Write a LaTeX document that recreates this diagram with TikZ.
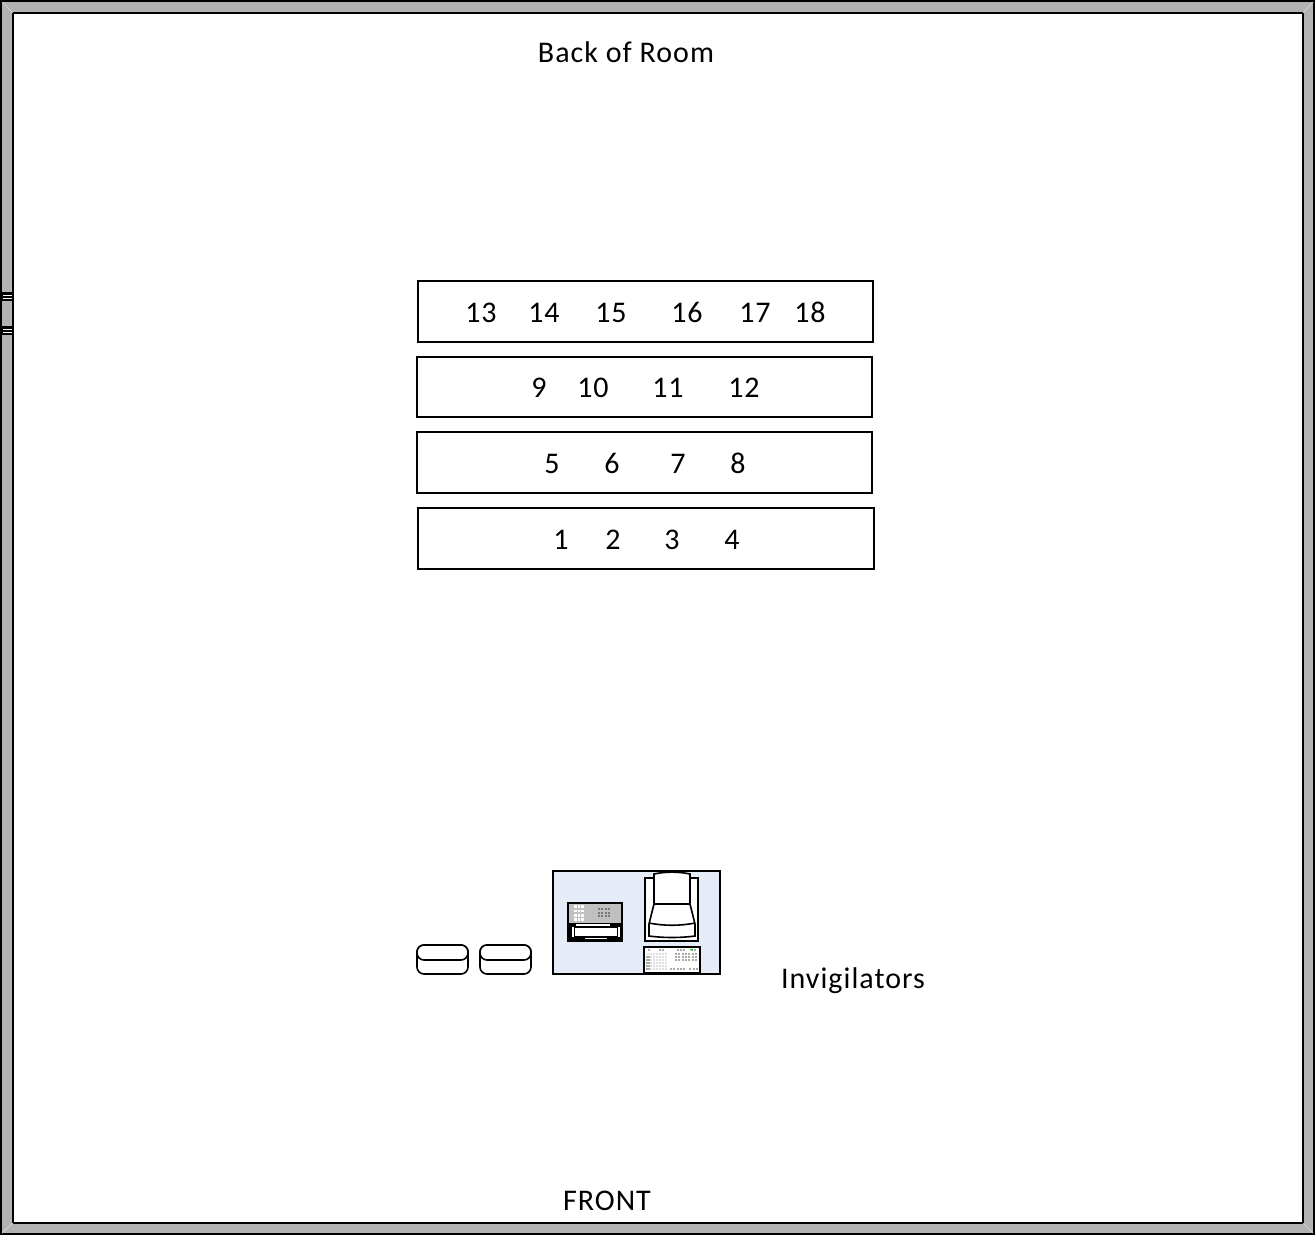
\documentclass[tikz,border=0pt]{standalone}
\usepackage{fontspec}
\setmainfont{Carlito}
\newfontfamily\roomfont[LetterSpace=3.4]{Carlito}
\usepackage{xcolor}
\usetikzlibrary{positioning, arrows.meta}
\definecolor{WallGrey}{RGB}{178,178,178}
\definecolor{TableBlue}{RGB}{230,236,247}
\definecolor{PhoneGrey}{RGB}{192,192,192}
\definecolor{KeyGrey}{RGB}{170,170,170}
\tikzset{
  wall/.style={draw=black, line width=2pt, fill=WallGrey},
  room/.style={draw=black, line width=2pt, fill=white},
  deskrow/.style={draw=black, line width=1.4pt, fill=white, inner sep=0pt},
  seatno/.style={font=\roomfont\fontsize{30}{32}\selectfont, inner sep=0pt},
  lab/.style={font=\roomfont\fontsize{30}{32}\selectfont, inner sep=0pt},
  kit/.style={draw=black, line width=1.6pt, fill=white},
  stool/.style={draw=black, line width=1.6pt, fill=white, rounded corners=7pt},
}
\begin{document}
\begin{tikzpicture}[x=1pt, y=-1pt]
    \useasboundingbox (0,0) rectangle (1315,1235);
    \fill[white] (0,0) rectangle (1315,1235);
    % walls
    \draw[wall] (1,1) rectangle (1314,1234);
    \draw[room] (13,13) rectangle (1303,1223);
    \foreach \a/\b in {2/13, 1313/1303} {
      \draw[white!85!black, line width=0.7pt] (\a,2) -- (\b,13);
      \draw[white!85!black, line width=0.7pt] (\a,1233) -- (\b,1223);
    }
    % window marks
    \foreach \y in {292,326} {
      \fill[black] (1,\y) rectangle (13,\y+9);
      \fill[white] (3,\y+2.6) rectangle (12,\y+3.5);
      \fill[white] (3,\y+5.6) rectangle (12,\y+6.5);
    }
    \node[lab] (back) at (626,52) {Back of Room};
    \node[lab] (front) at (607,1201) {FRONT};
    \node[lab] (invig) at (853,980.5) {Invigilators};
    % rows of desks
    \draw[deskrow] (418,281) rectangle (873,342);
    \draw[deskrow] (417,357) rectangle (872,417);
    \draw[deskrow] (417,432) rectangle (872,493);
    \draw[deskrow] (418,508) rectangle (874,569);
    \foreach \x/\n in {481/13, 544/14, 611/15, 687/16, 755/17, 810/18}
      \node[seatno] (s\n) at (\x,312.5) {\n};
    \foreach \x/\n in {539/9, 593/10, 668/11, 744/12}
      \node[seatno] (s\n) at (\x,387.5) {\n};
    \foreach \x/\n in {552/5, 612/6, 678/7, 738/8}
      \node[seatno] (s\n) at (\x,463.5) {\n};
    \foreach \x/\n in {561/1, 613/2, 672/3, 732/4}
      \node[seatno] (s\n) at (\x,539.5) {\n};
    % stools
    \foreach \x in {417,480} {
      \draw[stool] (\x,945) rectangle (\x+51,974);
      \draw[stool] (\x,945) rectangle (\x+51,960);
    }
    % invigilators table
    \draw[draw=black, line width=1.4pt, fill=TableBlue] (553,871) rectangle (720,974);
    % phone
    \draw[kit, fill=PhoneGrey] (568,903) rectangle (622,941);
    \fill[black] (569,923) rectangle (621,940);
    \fill[white] (576,923.6) rectangle (610,926);
    \fill[white] (575,928) rectangle (617,936);
    \fill[white] (585,938) rectangle (607,939.4);
    \fill[white] (572.4,927) rectangle (573.8,937);
    \fill[white] (618.2,927) rectangle (619.6,937);
    \foreach \y in {905,909.5,914,918}
      \foreach \x in {574,577.5,581}
        \fill[white] (\x,\y) rectangle +(2.6,2.6);
    \foreach \y in {908,911.5,915}
      \foreach \x in {597.5,601,604.5,608}
        \fill[KeyGrey!70!black] (\x,\y) rectangle +(2.4,2.4);
    % chair
    \draw[kit] (645,878) rectangle (698,941);
    \draw[kit] (654,874) .. controls (666,871.5) and (678,871.5) .. (690,874) -- (690,904) -- (654,904) -- cycle;
    \draw[kit] (654,904) -- (690,904) -- (695,924) -- (695,936) .. controls (680,938) and (664,938) .. (649,936) -- (649,924) -- cycle;
    \draw[black, line width=1.6pt] (649,923) .. controls (664,926) and (680,926) .. (695,923);
    % keyboard
    \draw[kit] (644,947) rectangle (700,973);
    \foreach \y in {953,956,959,962,965,968}
      \foreach \x in {647,650,...,665}
        \fill[gray!25] (\x,\y) rectangle +(2,2);
    \foreach \x in {648,659,662,677,680,683,691,694}
      \fill[KeyGrey] (\x,949) rectangle +(2.4,2);
    \foreach \y in {959,962,965}
      \foreach \x in {675,678,682,685,688,692,695}
        \fill[KeyGrey] (\x,\y-6) rectangle +(2,2);
    \foreach \y in {956,959,962,965,968}
      \fill[KeyGrey] (646,\y) rectangle +(4,2);
    \foreach \x in {670,673,677,680,683,689,693,696}
      \fill[KeyGrey] (\x,968) rectangle +(2,2);
    \fill[green!80!black] (690,948.5) rectangle +(3,1.5);
  \end{tikzpicture}
\end{document}
